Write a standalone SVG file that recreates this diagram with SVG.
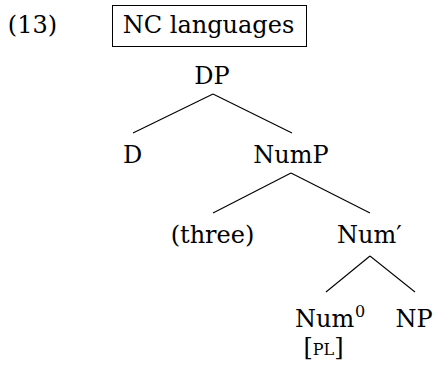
<svg xmlns="http://www.w3.org/2000/svg" width="436" height="374" viewBox="0 0 436 374">
<style>
.t{font-size:24px;fill:#000}
.s{font-size:16px;fill:#000}
#edges line{stroke:#000;stroke-width:1.1}
</style>
<rect width="436" height="374" fill="#fff"/>
<g id="label"><text class="t" font-family="DejaVu Serif" x="32.5" y="33" text-anchor="middle">(13)</text></g>
<g id="title"><rect x="112.5" y="5.5" width="194" height="41" fill="none" stroke="#000" stroke-width="1"/><text class="t" font-family="DejaVu Serif" x="208.5" y="33" text-anchor="middle">NC languages</text></g>
<g id="edges">
<line x1="213" y1="94" x2="133" y2="133"/>
<line x1="213" y1="94" x2="292" y2="133"/>
<line x1="291" y1="173" x2="213" y2="213"/>
<line x1="291" y1="173" x2="370" y2="213"/>
<line x1="370" y1="256" x2="326" y2="292"/>
<line x1="370" y1="256" x2="415" y2="292"/>
</g>
<g id="DP"><text class="t" font-family="DejaVu Serif" x="212" y="84" text-anchor="middle">DP</text></g>
<g id="D"><text class="t" font-family="DejaVu Serif" x="132.5" y="163" text-anchor="middle">D</text></g>
<g id="NumP"><text class="t" font-family="DejaVu Serif" x="291" y="163" text-anchor="middle">NumP</text></g>
<g id="three"><text class="t" font-family="DejaVu Serif" x="212.5" y="243" text-anchor="middle">(three)</text></g>
<g id="NumBar"><text class="t" font-family="DejaVu Serif" x="337" y="243">Num′</text></g>
<g id="Num0"><text class="t" font-family="DejaVu Serif" x="295" y="327">Num</text><text class="s" font-family="DejaVu Serif" x="355" y="317">0</text><text class="t" font-family="DejaVu Serif" x="323.5" y="355" text-anchor="middle">[<tspan class="s">PL</tspan>]</text></g>
<g id="NP"><text class="t" font-family="DejaVu Serif" x="414" y="327" text-anchor="middle">NP</text></g>
</svg>
